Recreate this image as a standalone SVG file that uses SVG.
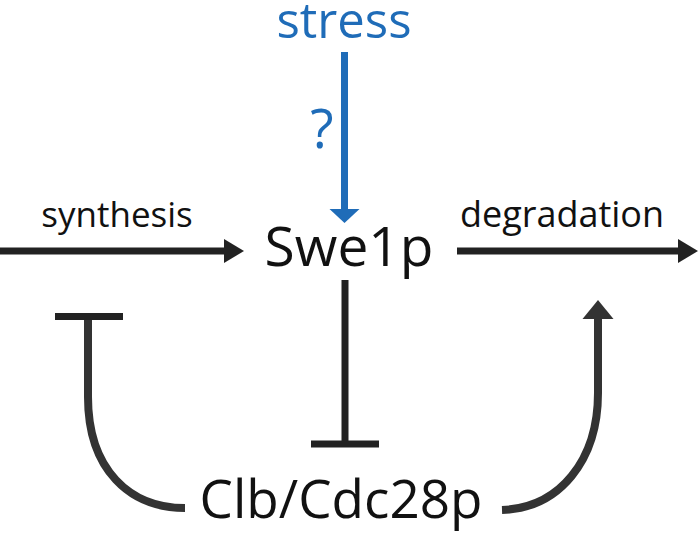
<svg xmlns="http://www.w3.org/2000/svg" width="700" height="535" viewBox="0 0 700 535">
<style>
.lbl{font-family:"Open Sans","Liberation Sans",sans-serif;fill:#111;text-anchor:middle}
.blue{fill:#1f6cb8}
.ln{fill:none;stroke:#222;stroke-width:7}
.cv{fill:none;stroke:#333;stroke-width:8}
.bl{fill:none;stroke:#1f6cb8;stroke-width:7}
</style>
<defs>
<marker id="ahBlack" markerUnits="userSpaceOnUse" viewBox="0 -12 20 24" refX="0" refY="0" markerWidth="20" markerHeight="24" orient="auto" overflow="visible"><path d="M0,-12 L20,0 L0,12 z" fill="#222"/></marker>
<marker id="ahCurve" markerUnits="userSpaceOnUse" viewBox="0 -16 19 32" refX="0" refY="0" markerWidth="19" markerHeight="32" orient="auto" overflow="visible"><path d="M0,-15.5 L19,0 L0,15.5 z" fill="#333"/></marker>
<marker id="ahBlue" markerUnits="userSpaceOnUse" viewBox="0 -15 14 30" refX="0" refY="0" markerWidth="14" markerHeight="30" orient="auto" overflow="visible"><path d="M0,-15 L14,0 L0,15 z" fill="#1f6cb8"/></marker>
</defs>
<g id="connectors">
<line class="bl" x1="344.5" y1="52" x2="344.5" y2="209" marker-end="url(#ahBlue)"/>
<line class="ln" x1="0" y1="251" x2="224" y2="251" marker-end="url(#ahBlack)"/>
<line class="ln" x1="457" y1="251" x2="678" y2="251" marker-end="url(#ahBlack)"/>
<line class="ln" x1="345" y1="280" x2="345" y2="444"/>
<line class="ln" x1="311" y1="444" x2="379" y2="444" stroke-width="6"/>
<path class="cv" d="M88,316 L88,397 C88,470 130,508 185,508"/>
<line class="ln" x1="55" y1="316.5" x2="123" y2="316.5" stroke="#2a2a2a" stroke-width="6"/>
<path class="cv" d="M502,510 C560,508 598,460 598,393 L598,319" marker-end="url(#ahCurve)"/>
</g>
<g id="stress"><text class="lbl blue" x="344" y="38" font-size="49">stress</text></g>
<g id="question"><text class="lbl blue" x="322" y="148" font-size="54">?</text></g>
<g id="synthesis"><text class="lbl" x="117" y="227" font-size="35">synthesis</text></g>
<g id="degradation"><text class="lbl" x="562" y="227" font-size="36">degradation</text></g>
<g id="swe1p"><text class="lbl" x="349" y="266" font-size="55">Swe1p</text></g>
<g id="clb"><text class="lbl" x="341" y="518" font-size="53">Clb/Cdc28p</text></g>
</svg>
